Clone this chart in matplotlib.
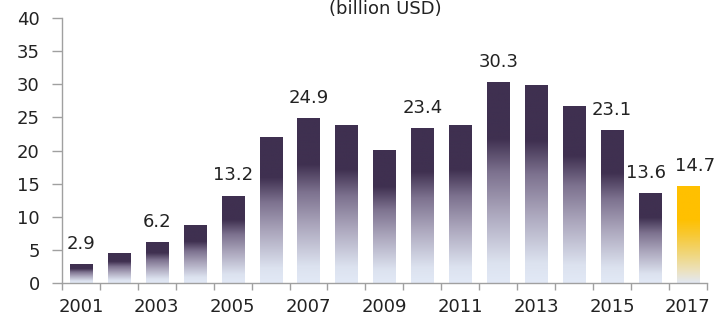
import matplotlib
matplotlib.use("Agg")
import matplotlib.pyplot as plt
import numpy as np
from matplotlib.colors import LinearSegmentedColormap

years = list(range(2001, 2018))
values = [2.9, 4.5, 6.2, 8.7, 13.2, 22.1, 24.9, 23.8, 20.1, 23.4, 23.8, 30.3, 29.9, 26.7, 23.1, 13.6, 14.7]
labeled_years = [2001, 2003, 2005, 2007, 2010, 2012, 2015, 2016, 2017]
tick_years = [2001, 2003, 2005, 2007, 2009, 2011, 2013, 2015, 2017]
title = "(billion USD)"

plt.rcParams['font.family'] = ['DejaVu Sans']

purple_cmap = LinearSegmentedColormap.from_list("p", [
    (0.0, "#e2e9f6"), (0.1, "#dce2ef"), (0.35, "#aba6bc"), (0.55, "#7d728f"),
    (0.72, "#3f3050"), (1.0, "#3f3050")])
gold_cmap = LinearSegmentedColormap.from_list("g", [
    (0.0, "#e2e8f3"), (0.12, "#ece2c0"), (0.3, "#f0d67a"), (0.5, "#f8c830"),
    (0.65, "#ffc000"), (1.0, "#ffc000")])

fig = plt.figure(figsize=(7.28, 3.23), dpi=100)
ax = fig.add_axes([0.085, 0.124, 0.886, 0.82])

x = np.arange(len(years))
bars = ax.bar(x, values, width=0.58, color="none", edgecolor="none", zorder=2)
grad = np.linspace(0, 1, 256).reshape(-1, 1)
for i, b in enumerate(bars):
    cmap = gold_cmap if years[i] == 2017 else purple_cmap
    x0, y0 = b.get_x(), b.get_y()
    w, h = b.get_width(), b.get_height()
    im = ax.imshow(grad, cmap=cmap, origin="lower", aspect="auto",
                   extent=[x0, x0 + w, y0, y0 + h], zorder=2)
    im.set_clip_path(b)

label_dx = {2016: -3, 2017: 5}  # small nudges in points, as in the reference
for i, v in enumerate(values):
    if years[i] in labeled_years:
        ax.annotate(f"{v:.1f}", xy=(x[i], v), xytext=(label_dx.get(years[i], 0), 8),
                    textcoords="offset points", ha="center", va="bottom",
                    fontsize=13, color="#222222", annotation_clip=False)

ax.set_xlim(-0.5, len(years) - 0.5)
ax.set_ylim(0, 40)
ax.set_yticks(range(0, 41, 5))
ax.set_xticks([years.index(y) for y in tick_years])
ax.set_xticklabels([str(y) for y in tick_years])
ax.set_xticks(np.arange(-0.5, len(years), 1), minor=True)
ax.tick_params(axis="x", which="major", length=0, pad=11, labelsize=13, colors="#222222")
ax.tick_params(axis="x", which="minor", length=5, color="#a0a0a0", width=1)
ax.tick_params(axis="y", length=7, color="#a0a0a0", width=1, labelsize=13, labelcolor="#222222", pad=9)
for s in ["top", "right"]:
    ax.spines[s].set_visible(False)
for s in ["left", "bottom"]:
    ax.spines[s].set_color("#a0a0a0")
    ax.spines[s].set_linewidth(1)

fig.text(0.529, 0.999, title, ha="center", va="top", fontsize=13, color="#222222")

fig.savefig("out.png", dpi=100)
